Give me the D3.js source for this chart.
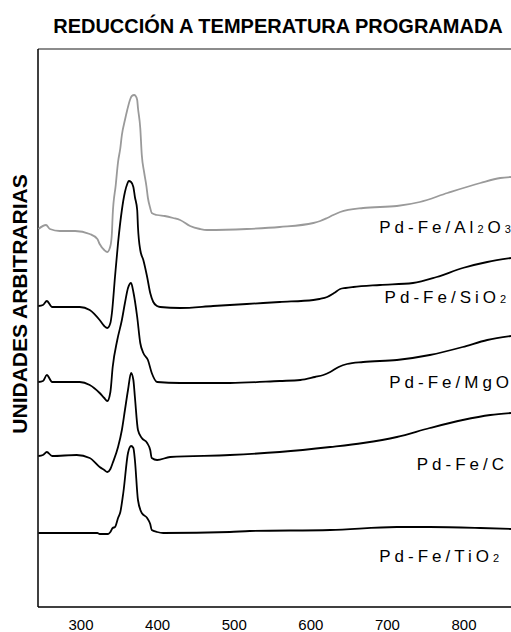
<!DOCTYPE html>
<html>
<head>
<meta charset="utf-8">
<script src="https://cdn.jsdelivr.net/npm/d3@7"></script>
<style>
  body { margin: 0; background: #fff; }
  text { font-family: 'Liberation Sans', Arial, sans-serif; }
</style>
</head>
<body>
<div id="chart"></div>
<script>
// temperature (°C) and signal (arbitrary units, already offset per sample)
const tempAl2O3 = [245, 255, 260, 273, 293, 312, 322, 325, 331, 335, 339, 341, 342, 346, 349, 352, 354, 358, 361, 365, 367, 370, 372, 374, 375, 378, 380, 383, 386, 388, 391, 393, 400, 410, 421, 430, 443, 456, 465, 517, 560, 604, 613, 622, 630, 639, 669, 713, 743, 779, 822, 848, 862]
const sigAl2O3 = [378, 382, 378, 376, 376, 373, 368, 363, 357, 355, 361, 374, 392, 422, 445, 459, 472, 487, 497, 508, 511, 512, 511, 507, 499, 479, 452, 435, 421, 409, 399, 394, 392, 391, 389, 387, 381, 378, 377, 378, 380, 384, 386, 389, 392, 395, 399, 401, 405, 414, 424, 429, 430]

const tempSiO2 = [245, 251, 256, 263, 277, 299, 312, 325, 331, 335, 339, 341, 345, 349, 354, 358, 361, 363, 366, 369, 371, 374, 375, 378, 382, 387, 391, 395, 400, 404, 430, 473, 517, 560, 604, 612, 622, 631, 639, 646, 656, 691, 734, 765, 799, 831, 862]
const sigSiO2 = [301, 302, 306, 300, 300, 300, 297, 287, 281, 279, 284, 294, 330, 364, 397, 415, 423, 426, 425, 420, 410, 397, 380, 357, 347, 330, 314, 305, 301, 300, 299, 301, 303, 305, 307, 308, 310, 314, 318, 319, 320, 322, 324, 330, 339, 345, 349]

const tempMgO = [245, 251, 256, 263, 299, 312, 325, 331, 335, 339, 342, 348, 354, 358, 362, 366, 369, 374, 378, 382, 388, 393, 400, 430, 495, 560, 587, 606, 617, 626, 637, 648, 669, 713, 756, 799, 831, 862]
const sigMgO = [225, 226, 232, 225, 225, 222, 214, 209, 206, 215, 240, 267, 287, 304, 319, 324, 315, 290, 264, 254, 247, 234, 225, 224, 224, 226, 227, 230, 232, 235, 240, 243, 245, 247, 252, 260, 267, 271]

const tempC = [245, 251, 256, 263, 295, 312, 325, 331, 335, 339, 342, 349, 354, 358, 362, 366, 369, 371, 375, 380, 387, 391, 393, 400, 417, 495, 560, 626, 669, 713, 756, 799, 835, 862]
const sigC = [151, 152, 155, 151, 152, 149, 140, 137, 135, 138, 144, 160, 177, 197, 217, 234, 227, 210, 177, 169, 164, 157, 149, 147, 150, 152, 155, 160, 164, 170, 179, 187, 192, 194]

const tempTiO2 = [245, 322, 325, 336, 339, 342, 345, 349, 352, 356, 362, 366, 369, 371, 375, 380, 387, 391, 393, 400, 408, 495, 521, 626, 713, 756, 822, 862]
const sigTiO2 = [74, 74, 73, 73, 75, 79, 80, 89, 95, 115, 154, 161, 159, 147, 107, 94, 89, 83, 77, 75, 74, 75, 76, 77, 80, 80, 79, 78]

const xTicks = [300, 400, 500, 600, 700, 800]

// label text: [main, sub, main, sub]
const labelAl2O3 = ['Pd-Fe/Al', '2', 'O', '3']
const labelSiO2 = ['Pd-Fe/SiO', '2']
const labelMgO = ['Pd-Fe/MgO']
const labelC = ['Pd-Fe/C']
const labelTiO2 = ['Pd-Fe/TiO', '2']
// where each label starts (temperature) and sits (signal)
const labelTemp = [690, 697, 703, 739, 690]
const labelSig = [374, 304, 219, 137, 45]

const series = [
  {t: tempAl2O3, s: sigAl2O3, color: '#9a9a9a', label: labelAl2O3},
  {t: tempSiO2, s: sigSiO2, color: '#000', label: labelSiO2},
  {t: tempMgO, s: sigMgO, color: '#000', label: labelMgO},
  {t: tempC, s: sigC, color: '#000', label: labelC},
  {t: tempTiO2, s: sigTiO2, color: '#000', label: labelTiO2}
]

const width = 511, height = 632
const margin = {top: 49, right: 0, bottom: 25, left: 38}

const xScale = d3.scaleLinear()
  .domain([244.5, 862])
  .range([margin.left, width - margin.right])
const yScale = d3.scaleLinear()
  .domain([0, 558])
  .range([height - margin.bottom, margin.top])

const svg = d3.select('#chart').append('svg')
  .attr('width', width)
  .attr('height', height)

// title
svg.append('text')
  .attr('x', 278)
  .attr('y', 33)
  .attr('text-anchor', 'middle')
  .attr('font-size', 20)
  .attr('font-weight', 'bold')
  .text('REDUCCIÓN A TEMPERATURA PROGRAMADA')

// y label
svg.append('text')
  .attr('transform', 'translate(26.5, 304) rotate(-90)')
  .attr('text-anchor', 'middle')
  .attr('font-size', 21)
  .attr('font-weight', 'bold')
  .text('UNIDADES ARBITRARIAS')

// frame
svg.append('line')
  .attr('x1', margin.left).attr('x2', width + 5)
  .attr('y1', margin.top).attr('y2', margin.top)
  .attr('stroke', '#666').attr('stroke-width', 1.5)
svg.append('line')
  .attr('x1', margin.left).attr('x2', margin.left)
  .attr('y1', margin.top).attr('y2', height - margin.bottom)
  .attr('stroke', '#000').attr('stroke-width', 1.5)

// x axis
const xAxis = d3.axisBottom(xScale)
  .tickValues(xTicks)
  .tickSize(0)
  .tickPadding(12)
const gx = svg.append('g')
  .attr('transform', `translate(0, ${height - margin.bottom})`)
  .call(xAxis)
gx.select('.domain')
  .attr('d', `M${margin.left},0H${width + 5}`)
  .attr('stroke', '#000')
  .attr('stroke-width', 1.5)
gx.selectAll('text')
  .attr('font-size', 15)
  .attr('font-family', "'Liberation Sans', Arial, sans-serif")
  .attr('fill', '#000')

// curves
const line = d3.line()
  .x(d => xScale(d[0]))
  .y(d => yScale(d[1]))
  .curve(d3.curveMonotoneX)

series.forEach((sr, i) => {
  const pts = sr.t.map((t, j) => [t, sr.s[j]])
  svg.append('path')
    .datum(pts)
    .attr('d', line)
    .attr('fill', 'none')
    .attr('stroke', sr.color)
    .attr('stroke-width', 1.8)
    .attr('stroke-linejoin', 'round')

  const txt = svg.append('text')
    .attr('x', xScale(labelTemp[i]))
    .attr('y', yScale(labelSig[i]))
    .attr('font-size', 17)
    .attr('letter-spacing', 4)
    .attr('fill', '#000')
  sr.label.forEach((part, k) => {
    txt.append('tspan')
      .attr('font-size', k % 2 ? 11 : 17)
      .text(part)
  })
})
</script>
</body>
</html>
